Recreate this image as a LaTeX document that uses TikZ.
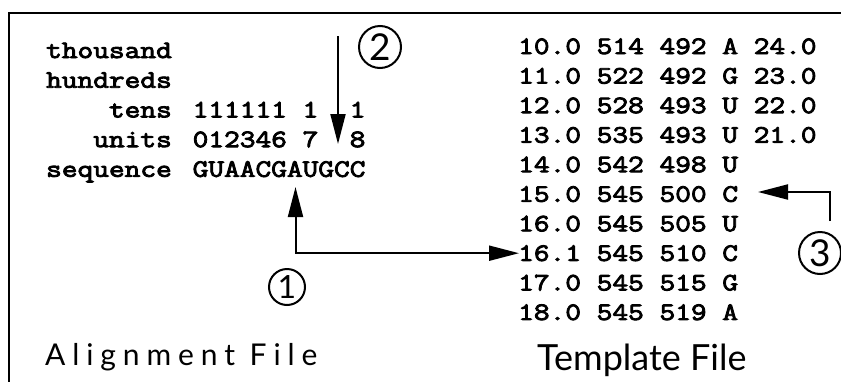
\documentclass[tikz,border=0pt]{standalone}
\usepackage{fontspec}
\setmainfont{Lato}
\newfontfamily\monofam{Latin Modern Mono}[FakeStretch=1.22, FakeBold=3.5]
\newfontfamily\labfont{Lato}
\newfontfamily\spacedfont{Lato}[LetterSpace=23]
\usetikzlibrary{arrows.meta}
\tikzset{
  mono/.style={font=\monofam\fontsize{25}{30}\selectfont, inner sep=0pt, anchor=base west},
  monor/.style={mono, anchor=base east},
  num/.style={circle, draw, line width=2pt, inner sep=0pt, font=\labfont\fontsize{37}{37}\selectfont},
  arr/.style={line width=2pt, -{Triangle[length=30pt,width=15pt]}},
  darr/.style={line width=2pt, {Triangle[length=30pt,width=15pt]}-{Triangle[length=30pt,width=15pt]}},
}
\begin{document}
\begin{tikzpicture}[x=1pt,y=-1pt]
\useasboundingbox (0,0) rectangle (841,381);
\fill[white] (0,0) rectangle (841,381);
% frame
\draw[line width=2.2pt] (9,390) -- (9,13) -- (850,13);
% alignment file
\node[monor] (lth) at (172,58) {thousand};
\node[monor] (lhu) at (172,87.7) {hundreds};
\node[monor] (lte) at (172,117.4) {tens};
\node[monor] (lun) at (172,147.1) {units};
\node[monor] (lse) at (172,176.8) {sequence};
\node[mono] (vte) at (192.5,117.4) {111111~1~~1};
\node[mono] (vun) at (192.5,147.1) {012346~7~~8};
\node[mono] (vse) at (192.5,176.8) {GUAACGAUGCC};
% template file
\foreach \t [count=\i from 0] in {10.0~514~492~A~24.0, 11.0~522~492~G~23.0, 12.0~528~493~U~22.0, 13.0~535~493~U~21.0, 14.0~542~498~U, 15.0~545~500~C, 16.0~545~505~U, 16.1~545~510~C, 17.0~545~515~G, 18.0~545~519~A}
  \node[mono] (r\i) at (518,54+29.55*\i) {\t};
% captions
\node[inner sep=0pt, anchor=base west, font=\spacedfont\fontsize{30}{30}\selectfont] (capA) at (45,365) {Alignment File};
\node[inner sep=0pt, anchor=base west, font=\labfont\fontsize{36}{36}\selectfont] (capT) at (537,370) {Template File};
% circled numbers
\node[num, minimum size=36pt, font=\labfont\fontsize{32}{32}\selectfont] (n1) at (287,287) {1};
\node[num, minimum size=42pt] (n2) at (380,47) {2};
\node[num, minimum size=42pt] (n3) at (820,253) {3};
% arrows
\coordinate (a2s) at (338,36);
\coordinate (a2e) at (338,144);
\draw[arr] (a2s) -- (a2e);
\coordinate (a1s) at (295.5,187);
\draw[darr] (a1s) |- ([xshift=1pt]r7.west);
\coordinate (a3s) at (830,221);
\coordinate (a3e) at (758,192);
\draw[arr] (a3s) |- (a3e);
\end{tikzpicture}
\end{document}
